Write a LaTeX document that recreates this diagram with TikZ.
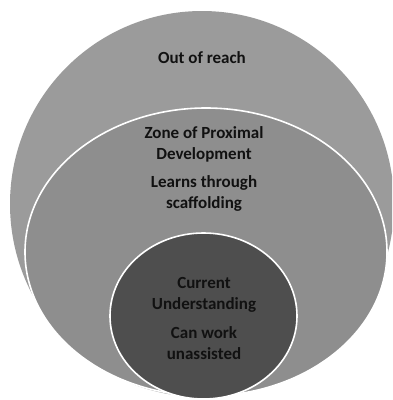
\documentclass[tikz,border=0pt]{standalone}
\usepackage{fontspec}
\setmainfont{Carlito}
\definecolor{outerg}{HTML}{9B9B9B}
\definecolor{midg}{HTML}{8E8E8E}
\definecolor{innerg}{HTML}{4E4E4E}
\definecolor{txt}{HTML}{111111}
\tikzset{
  ring/.style={draw=white, line width=1.6pt},
  lbl/.style={text=txt, font=\bfseries\fontsize{17}{21}\selectfont, align=center, inner sep=0pt}
}
\begin{document}
\begin{tikzpicture}[x=1pt,y=-1pt]
\useasboundingbox (0,0) rectangle (392,400);
\clip (0,0) rectangle (392,400);
\fill[white] (0,0) rectangle (392,400);
\fill[outerg] (202,204) ellipse [x radius=192, y radius=193];
\filldraw[fill=midg, ring] (206,252) ellipse [x radius=181, y radius=144];
\filldraw[fill=innerg, ring] (203.5,316) ellipse [x radius=93.5, y radius=83];
\node[lbl] (out) at (202,58) {Out of reach};
\node[lbl] (zpd) at (204,144) {Zone of Proximal\\Development};
\node[lbl] (scaf) at (204,193) {Learns through\\scaffolding};
\node[lbl] (cur) at (204,295) {Current\\Understanding};
\node[lbl] (cw) at (204,343) {Can work\\unassisted};
\end{tikzpicture}
\end{document}
